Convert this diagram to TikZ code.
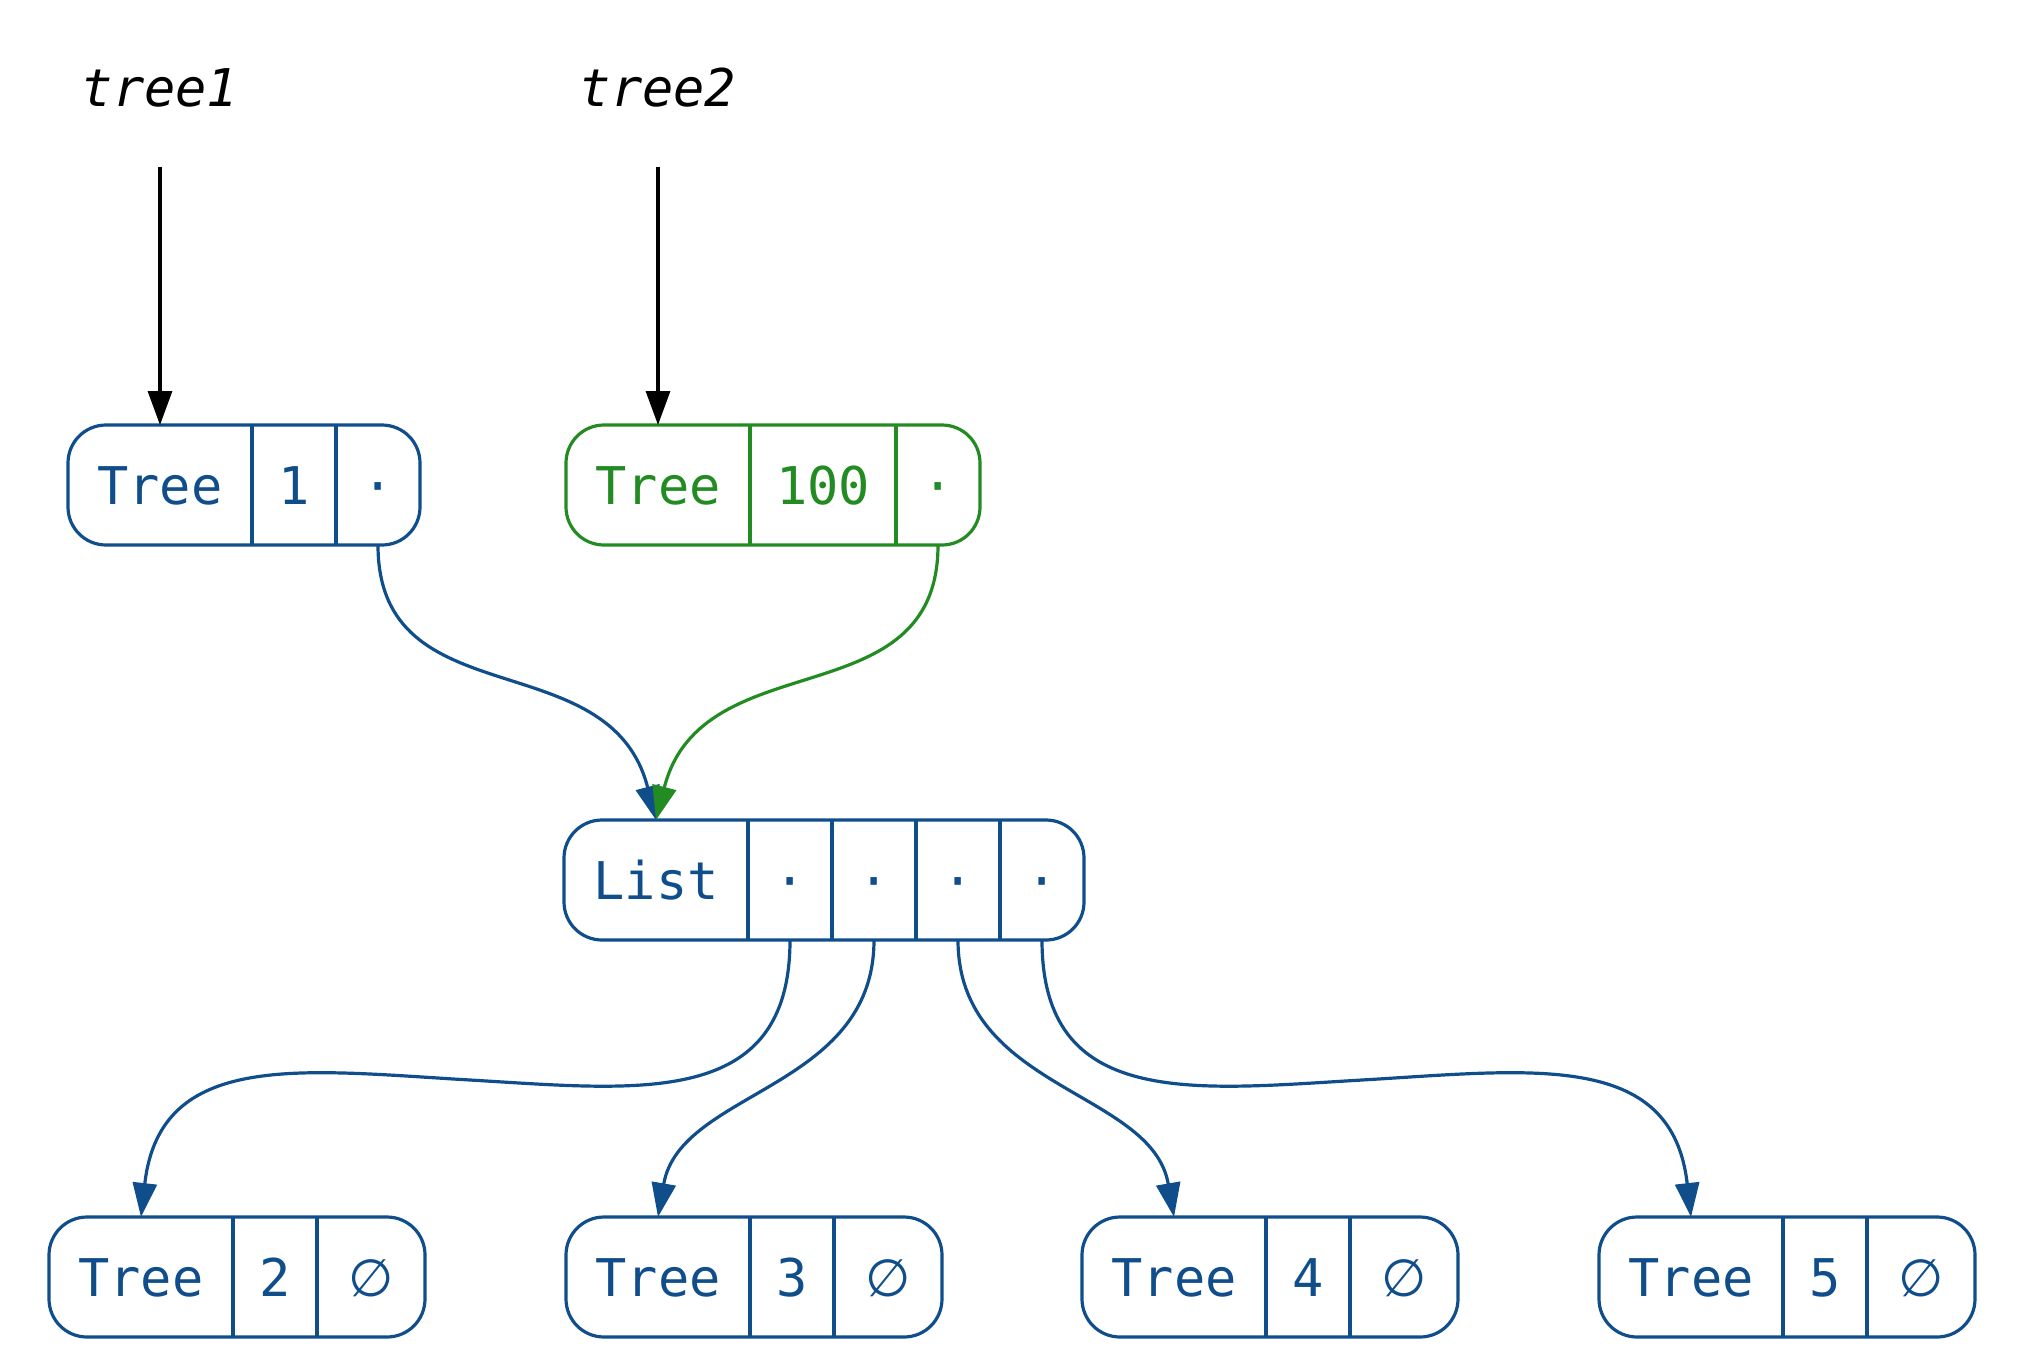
\documentclass[tikz,border=0pt]{standalone}
\usepackage{fontspec}
\setmonofont{DejaVu Sans Mono}
\newfontfamily\symfont{DejaVu Sans}
\usepackage{tikz}
\usetikzlibrary{positioning,arrows.meta,fit}
\definecolor{recblue}{HTML}{104E8B}
\definecolor{recgreen}{HTML}{228B22}
\newcommand{\nil}{{\symfont ∅}}
\newcommand{\ptrdot}{·}

\begin{document}
\begin{tikzpicture}[x=0.5pt,y=-0.5pt,node distance=0pt,line width=1.6pt,
    font=\ttfamily\fontsize{26}{30}\selectfont,
    >={Triangle[length=17pt,width=12pt]}]
  \tikzstyle{field}=[inner sep=0pt,outer sep=0pt,minimum height=60pt,
    text height=19pt,text depth=0pt]
  \tikzstyle{headf}=[field,minimum width=92pt]
  \tikzstyle{numf}=[field,minimum width=42pt]
  \tikzstyle{widef}=[field,minimum width=73pt]
  \tikzstyle{ptrf}=[field,minimum width=42pt]
  \tikzstyle{nilf}=[field,minimum width=54pt]
  \tikzstyle{record}=[draw,rounded corners=19pt,inner sep=0pt,outer sep=0pt]
  \tikzstyle{varlabel}=[font=\ttfamily\itshape\fontsize{26}{30}\selectfont,
    minimum height=77pt,inner sep=0pt]
  \useasboundingbox (0,0) rectangle (2025,1371);

  % variables
  \node[varlabel] (tree1) at (160,88) {tree1};
  \node[varlabel] (tree2) at (658,88) {tree2};

  % Tree 1
  \node[headf,anchor=west,recblue] (t1a) at (68,485) {Tree};
  \node[numf,right=of t1a,recblue] (t1b) {1};
  \node[ptrf,right=of t1b,recblue] (t1c) {\ptrdot};
  \node[record,recblue,fit=(t1a)(t1c)] (t1) {};
  \draw[recblue] (t1b.north west) -- (t1b.south west) (t1c.north west) -- (t1c.south west);

  % Tree 100
  \node[headf,anchor=west,recgreen] (t100a) at (566,485) {Tree};
  \node[widef,right=of t100a,recgreen] (t100b) {100};
  \node[ptrf,right=of t100b,recgreen] (t100c) {\ptrdot};
  \node[record,recgreen,fit=(t100a)(t100c)] (t100) {};
  \draw[recgreen] (t100b.north west) -- (t100b.south west) (t100c.north west) -- (t100c.south west);

  % List
  \node[headf,anchor=west,recblue] (la) at (564,880) {List};
  \node[ptrf,right=of la,recblue] (lb) {\ptrdot};
  \node[ptrf,right=of lb,recblue] (lc) {\ptrdot};
  \node[ptrf,right=of lc,recblue] (ld) {\ptrdot};
  \node[ptrf,right=of ld,recblue] (le) {\ptrdot};
  \node[record,recblue,fit=(la)(le)] (lst) {};
  \foreach \f in {lb,lc,ld,le}
    \draw[recblue] (\f.north west) -- (\f.south west);

  % leaves
  \foreach \n/\x in {2/49,3/566,4/1082,5/1599} {
    \node[headf,anchor=west,recblue] (t\n a) at (\x,1277) {Tree};
    \node[numf,right=of t\n a,recblue] (t\n b) {\n};
    \node[nilf,right=of t\n b,recblue] (t\n c) {\nil};
    \node[record,recblue,fit=(t\n a)(t\n c)] (t\n) {};
    \draw[recblue] (t\n b.north west) -- (t\n b.south west) (t\n c.north west) -- (t\n c.south west);
  }

  % pointers
  \draw[->] (tree1) -- (t1a);
  \draw[->] (tree2) -- (t100a);
  \draw[->,recblue] (t1c.south) .. controls +(0,175) and +(-46,-180) .. (la.north);
  \draw[->,recgreen] (t100c.south) .. controls +(0,175) and +(46,-180) .. (la.north);
  \coordinate (m2) at (470,1080);
  \coordinate (m5) at (1362,1080);
  \draw[->,recblue] (lb.south) .. controls +(0,169) and +(170,10) .. (m2)
    .. controls +(-170,-10) and +(19,-167) .. (t2a.north);
  \draw[->,recblue] (lc.south) .. controls +(0,150) and +(22,-127) .. (t3a.north);
  \draw[->,recblue] (ld.south) .. controls +(0,150) and +(-22,-127) .. (t4a.north);
  \draw[->,recblue] (le.south) .. controls +(0,169) and +(-170,10) .. (m5)
    .. controls +(170,-10) and +(-19,-167) .. (t5a.north);
\end{tikzpicture}
\end{document}
